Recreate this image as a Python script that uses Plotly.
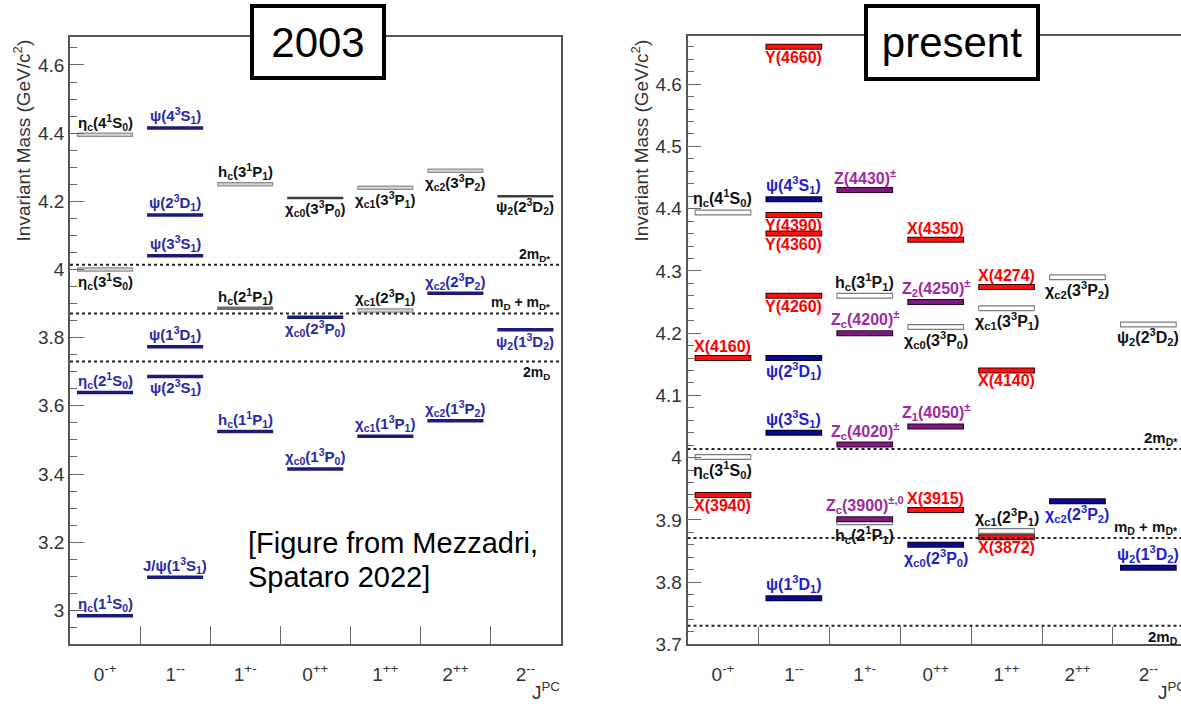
import plotly.graph_objects as go

# ---------------- data ----------------
JPC = ["0<sup>-+</sup>", "1<sup>--</sup>", "1<sup>+-</sup>", "0<sup>++</sup>",
       "1<sup>++</sup>", "2<sup>++</sup>", "2<sup>--</sup>"]

# 2003 panel
L_name = ["η<sub>c</sub>(4<sup>1</sup>S<sub>0</sub>)", "η<sub>c</sub>(3<sup>1</sup>S<sub>0</sub>)",
          "η<sub>c</sub>(2<sup>1</sup>S<sub>0</sub>)", "η<sub>c</sub>(1<sup>1</sup>S<sub>0</sub>)",
          "ψ(4<sup>3</sup>S<sub>1</sub>)", "ψ(2<sup>3</sup>D<sub>1</sub>)", "ψ(3<sup>3</sup>S<sub>1</sub>)",
          "ψ(1<sup>3</sup>D<sub>1</sub>)", "ψ(2<sup>3</sup>S<sub>1</sub>)", "J/ψ(1<sup>3</sup>S<sub>1</sub>)",
          "h<sub>c</sub>(3<sup>1</sup>P<sub>1</sub>)", "h<sub>c</sub>(2<sup>1</sup>P<sub>1</sub>)",
          "h<sub>c</sub>(1<sup>1</sup>P<sub>1</sub>)",
          "χ<sub>c0</sub>(3<sup>3</sup>P<sub>0</sub>)", "χ<sub>c0</sub>(2<sup>3</sup>P<sub>0</sub>)",
          "χ<sub>c0</sub>(1<sup>3</sup>P<sub>0</sub>)",
          "χ<sub>c1</sub>(3<sup>3</sup>P<sub>1</sub>)", "χ<sub>c1</sub>(2<sup>3</sup>P<sub>1</sub>)",
          "χ<sub>c1</sub>(1<sup>3</sup>P<sub>1</sub>)",
          "χ<sub>c2</sub>(3<sup>3</sup>P<sub>2</sub>)", "χ<sub>c2</sub>(2<sup>3</sup>P<sub>2</sub>)",
          "χ<sub>c2</sub>(1<sup>3</sup>P<sub>2</sub>)",
          "ψ<sub>2</sub>(2<sup>3</sup>D<sub>2</sub>)", "ψ<sub>2</sub>(1<sup>3</sup>D<sub>2</sub>)"]
L_bin = [0, 0, 0, 0, 1, 1, 1, 1, 1, 1, 2, 2, 2, 3, 3, 3, 4, 4, 4, 5, 5, 5, 6, 6]
L_mass = [4.395, 4.000, 3.639, 2.984, 4.415, 4.160, 4.040, 3.773, 3.686, 3.097,
          4.250, 3.886, 3.525, 4.210, 3.860, 3.415, 4.240, 3.880, 3.511,
          4.290, 3.930, 3.556, 4.215, 3.823]
L_kind = ["pred", "pred", "cc", "cc", "cc", "cc", "cc", "cc", "cc", "cc",
          "pred", "predf", "cc", "predd", "cc", "cc", "pred", "pred", "cc",
          "pred", "cc", "cc", "predd", "cc"]
L_side = ["above", "below", "above", "above", "above", "above", "above", "above", "below", "above",
          "above", "above", "above", "below", "below", "above", "below", "above", "above",
          "below", "above", "above", "below", "below"]

# present panel
R_name = ["η<sub>c</sub>(4<sup>1</sup>S<sub>0</sub>)", "X(4160)", "η<sub>c</sub>(3<sup>1</sup>S<sub>0</sub>)", "X(3940)",
          "Y(4660)", "ψ(4<sup>3</sup>S<sub>1</sub>)", "Y(4390)", "Y(4360)", "Y(4260)",
          "ψ(2<sup>3</sup>D<sub>1</sub>)", "ψ(3<sup>3</sup>S<sub>1</sub>)", "ψ(1<sup>3</sup>D<sub>1</sub>)",
          "Z(4430)<sup>±</sup>", "h<sub>c</sub>(3<sup>1</sup>P<sub>1</sub>)", "Z<sub>c</sub>(4200)<sup>±</sup>",
          "Z<sub>c</sub>(4020)<sup>±</sup>", "Z<sub>c</sub>(3900)<sup>±,0</sup>",
          "h<sub>c</sub>(2<sup>1</sup>P<sub>1</sub>)",
          "X(4350)", "Z<sub>2</sub>(4250)<sup>±</sup>", "χ<sub>c0</sub>(3<sup>3</sup>P<sub>0</sub>)",
          "Z<sub>1</sub>(4050)<sup>±</sup>", "X(3915)", "χ<sub>c0</sub>(2<sup>3</sup>P<sub>0</sub>)",
          "X(4274)", "χ<sub>c1</sub>(3<sup>3</sup>P<sub>1</sub>)", "X(4140)",
          "χ<sub>c1</sub>(2<sup>3</sup>P<sub>1</sub>)", "X(3872)",
          "χ<sub>c2</sub>(3<sup>3</sup>P<sub>2</sub>)", "χ<sub>c2</sub>(2<sup>3</sup>P<sub>2</sub>)",
          "ψ<sub>2</sub>(2<sup>3</sup>D<sub>2</sub>)", "ψ<sub>2</sub>(1<sup>3</sup>D<sub>2</sub>)"]
R_bin = [0, 0, 0, 0, 1, 1, 1, 1, 1, 1, 1, 1, 2, 2, 2, 2, 2, 2,
         3, 3, 3, 3, 3, 3, 4, 4, 4, 4, 4, 5, 5, 6, 6]
R_mass = [4.394, 4.160, 4.001, 3.940,
          4.660, 4.415, 4.390, 4.360, 4.260, 4.160, 4.040, 3.774,
          4.430, 4.260, 4.200, 4.021, 3.901, 3.896,
          4.350, 4.250, 4.210, 4.050, 3.916, 3.860,
          4.274, 4.240, 4.140, 3.882, 3.872,
          4.290, 3.930, 4.214, 3.823]
R_kind = ["pred", "x", "pred", "x",
          "x", "cc", "x", "x", "x", "cc", "cc", "cc",
          "z", "pred", "z", "z", "z", "pred",
          "x", "z", "pred", "z", "x", "cc",
          "x", "pred", "x", "pred", "x",
          "pred", "cc", "pred", "cc"]
R_side = ["above", "above", "below", "below",
          "below", "above", "below", "below", "below", "below", "above", "above",
          "above", "above", "above", "above", "above", "below",
          "above", "above", "below", "above", "above", "below",
          "above", "below", "below", "above", "below",
          "below", "below", "below", "above"]

TH_name = ["2m<sub>D*</sub>", "m<sub>D</sub> + m<sub>D*</sub>", "2m<sub>D</sub>"]
TH_mass = [4.014, 3.871, 3.730]
TH_side = ["above", "above", "below"]

# ---------------- styles ----------------
FONT = "Liberation Sans, Arial, sans-serif"
W, H = 1181, 708
L_STYLE = {  # outline colour, outline width, fill colour, fill width, label colour
    "cc": ("#1b1b78", 3.5, None, 0, "#2a2aa8"),
    "pred": ("#8c8c8c", 4.5, "#d6d6d6", 2.0, "#111111"),
    "predf": ("#6e6e6e", 3.5, None, 0, "#111111"),
    "predd": ("#3c3c3c", 2.5, None, 0, "#111111"),
}
R_STYLE = {
    "cc": ("#00002e", 6.0, "#0a0a8a", 4.0, "#1f1fcc"),
    "pred": ("#7a7a7a", 6.0, "#ffffff", 3.5, "#111111"),
    "x": ("#3a0000", 6.0, "#ff1010", 4.0, "#ff0000"),
    "z": ("#2a002a", 6.0, "#7e1a7e", 4.0, "#a02aa0"),
}

fig = go.Figure()
annotations = []


def add_panel(names, bins, masses, kinds, sides, styles, xa, ya, fsize, xmax, th_x):
    axx = "x" if xa == "xaxis" else "x2"
    axy = "y" if ya == "yaxis" else "y2"
    # level bars, grouped by style
    for kind, (oc, ow, fc, fw, lc) in styles.items():
        xs, ys, xi, yi = [], [], [], []
        for b, m, k in zip(bins, masses, kinds):
            if k != kind:
                continue
            xs += [b + 0.1, b + 0.9, None]
            ys += [m, m, None]
            xi += [b + 0.115, b + 0.885, None]
            yi += [m, m, None]
        if not xs:
            continue
        fig.add_trace(go.Scatter(x=xs, y=ys, mode="lines", xaxis=axx, yaxis=axy,
                                 line=dict(color=oc, width=ow), hoverinfo="skip", showlegend=False))
        if fc:
            fig.add_trace(go.Scatter(x=xi, y=yi, mode="lines", xaxis=axx, yaxis=axy,
                                     line=dict(color=fc, width=fw), hoverinfo="skip", showlegend=False))
    # level labels
    for n, b, m, k, s in zip(names, bins, masses, kinds, sides):
        oc, ow, fc, fw, lc = styles[k]
        half = ow / 2.0
        annotations.append(dict(
            x=b + 0.5, y=m, xref=axx, yref=axy, text="<b>" + n + "</b>", showarrow=False,
            xanchor="center", yanchor="bottom" if s == "above" else "top",
            yshift=(half - 1) if s == "above" else -(half - 2), borderpad=0,
            font=dict(family=FONT, size=fsize, color=lc)))
    # thresholds
    for n, m, s in zip(TH_name, TH_mass, TH_side):
        fig.add_trace(go.Scatter(x=[0, xmax], y=[m, m], mode="lines", xaxis=axx, yaxis=axy,
                                 line=dict(color="#222222", width=2, dash="3px,3px"),
                                 hoverinfo="skip", showlegend=False))
        annotations.append(dict(
            x=th_x, y=m, xref=axx, yref=axy, text="<b>" + n + "</b>", showarrow=False,
            xanchor="right", yanchor="bottom" if s == "above" else "top",
            yshift=0 if s == "above" else -1, borderpad=0,
            font=dict(family=FONT, size=fsize - 1, color="#111111")))


# geometry (pixels)
LX0, LX1 = 70.0, 560.5
LY0, LY1 = 654.3, 37.3
RX0, RBIN = 687.5, 70.9
RY0, RY1 = 654.5, 36.7
R_XMAX = (W - RX0) / RBIN

add_panel(L_name, L_bin, L_mass, L_kind, L_side, L_STYLE, "xaxis", "yaxis", 15, 7, 6.86)
add_panel(R_name, R_bin, R_mass, R_kind, R_side, R_STYLE, "xaxis2", "yaxis2", 16, R_XMAX, 6.93)

tickfont = dict(family=FONT, size=19, color="#333333")
common_x = dict(tickmode="array", tickvals=[i + 0.5 for i in range(7)], ticktext=JPC,
                ticks="", showgrid=False, zeroline=False, showline=True, linecolor="#555555",
                linewidth=1.5, tickfont=tickfont, ticklabelstandoff=12,
                minor=dict(tickmode="array", tickvals=[1, 2, 3, 4, 5, 6], ticks="inside",
                           ticklen=18, tickcolor="#666666", tickwidth=1.2))
common_y = dict(showgrid=False, zeroline=False, showline=True, linecolor="#555555", linewidth=1.5,
                ticks="inside", ticklen=14, tickcolor="#666666", tickwidth=1.2, tickfont=tickfont)

fig.update_layout(
    width=W, height=H, margin=dict(l=0, r=0, t=0, b=0),
    paper_bgcolor="white", plot_bgcolor="white", showlegend=False,
    xaxis=dict(domain=[LX0 / W, LX1 / W], range=[0, 7], mirror=True, anchor="y", **common_x),
    yaxis=dict(domain=[1 - LY0 / H, 1 - LY1 / H], range=[3.0 - (LY0 - 620) / 346.25, 4.6 + (66 - LY1) / 346.25],
               tickmode="array", tickvals=[3.0, 3.2, 3.4, 3.6, 3.8, 4.0, 4.2, 4.4, 4.6],
               ticktext=["3", "3.2", "3.4", "3.6", "3.8", "4", "4.2", "4.4", "4.6"],
               mirror=True, anchor="x",
               minor=dict(dtick=0.05, tick0=3.0, ticks="inside", ticklen=7, tickcolor="#666666", tickwidth=1.2),
               **common_y),
    xaxis2=dict(domain=[RX0 / W, 1.0], range=[0, R_XMAX], mirror=True, anchor="y2", **common_x),
    yaxis2=dict(domain=[1 - RY0 / H, 1 - RY1 / H], range=[3.7, 3.7 + (RY0 - RY1) / 632.2],
                tickmode="array", tickvals=[3.7, 3.8, 3.9, 4.0, 4.1, 4.2, 4.3, 4.4, 4.5, 4.6],
                ticktext=["3.7", "3.8", "3.9", "4", "4.1", "4.2", "4.3", "4.4", "4.5", "4.6"],
                mirror=False, anchor="x2",
                minor=dict(dtick=0.02, tick0=3.7, ticks="inside", ticklen=7, tickcolor="#666666", tickwidth=1.2),
                **common_y),
)

# axis titles and panel titles
annotations += [
    dict(x=22 / W, y=1 - 38 / H, xref="paper", yref="paper", text="Invariant Mass (GeV/c<sup>2</sup>)",
         textangle=-90, showarrow=False, xanchor="center", yanchor="top",
         font=dict(family=FONT, size=19, color="#333333")),
    dict(x=640 / W, y=1 - 38 / H, xref="paper", yref="paper", text="Invariant Mass (GeV/c<sup>2</sup>)",
         textangle=-90, showarrow=False, xanchor="center", yanchor="top",
         font=dict(family=FONT, size=19, color="#333333")),
    dict(x=562 / W, y=1 - 708 / H, xref="paper", yref="paper", text="J<sup>PC</sup>", showarrow=False,
         xanchor="right", yanchor="bottom", yshift=-8, font=dict(family=FONT, size=19, color="#333333")),
    dict(x=1188 / W, y=1 - 708 / H, xref="paper", yref="paper", text="J<sup>PC</sup>", showarrow=False,
         xanchor="right", yanchor="bottom", yshift=-8, font=dict(family=FONT, size=19, color="#333333")),
    dict(x=318 / W, y=1 - 43 / H, xref="paper", yref="paper", text="2003", showarrow=False,
         xanchor="center", yanchor="middle", width=126, height=66, borderpad=1,
         bordercolor="black", borderwidth=4, bgcolor="white",
         font=dict(family=FONT, size=42, color="black")),
    dict(x=952 / W, y=1 - 43.5 / H, xref="paper", yref="paper", text="present", showarrow=False,
         xanchor="center", yanchor="middle", width=166, height=67, borderpad=1,
         bordercolor="black", borderwidth=4, bgcolor="white",
         font=dict(family=FONT, size=42, color="black")),
    dict(x=246 / W, y=1 - 552 / H, xref="paper", yref="paper", text="[Figure from Mezzadri,",
         showarrow=False, xanchor="left", yanchor="middle",
         font=dict(family=FONT, size=29, color="black")),
    dict(x=246 / W, y=1 - 586 / H, xref="paper", yref="paper", text="Spataro 2022]",
         showarrow=False, xanchor="left", yanchor="middle",
         font=dict(family=FONT, size=29, color="black")),
]
fig.update_layout(annotations=annotations)

fig.write_html("out.html", config={"displayModeBar": False},
               post_script="document.body.style.margin='0';document.body.style.padding='0';")
